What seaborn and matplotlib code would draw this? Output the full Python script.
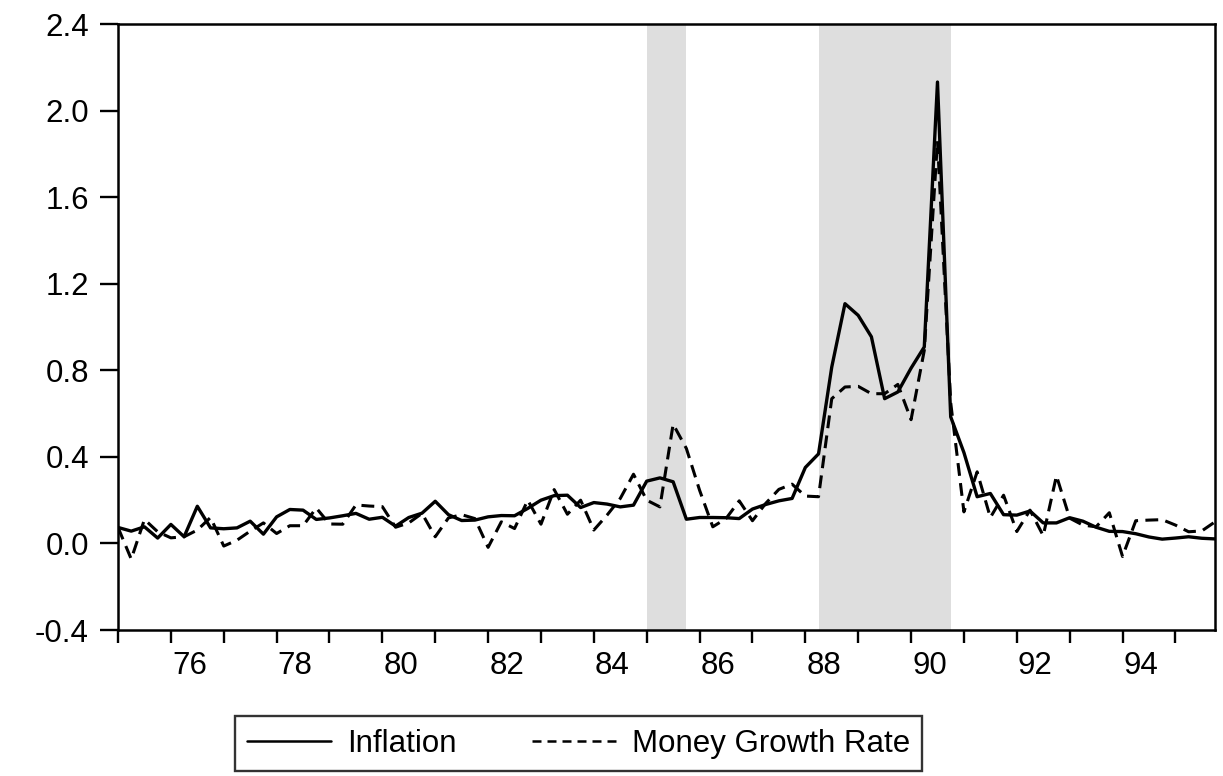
import numpy as np
import pandas as pd
import matplotlib.pyplot as plt
import seaborn as sns
from matplotlib.lines import Line2D

# квартальные данные, 1975Q1 - 1995Q4
start_year = 1975

inflation = [
    0.074, 0.057, 0.077, 0.025, 0.088, 0.031, 0.172, 0.072,
    0.068, 0.072, 0.103, 0.043, 0.123, 0.157, 0.154, 0.111,
    0.118, 0.128, 0.139, 0.112, 0.121, 0.080, 0.120, 0.140,
    0.195, 0.133, 0.106, 0.108, 0.123, 0.129, 0.128, 0.162,
    0.200, 0.221, 0.223, 0.166, 0.189, 0.182, 0.169, 0.177,
    0.288, 0.303, 0.285, 0.112, 0.120, 0.120, 0.119, 0.115,
    0.159, 0.180, 0.197, 0.208, 0.351, 0.414, 0.815, 1.108,
    1.054, 0.955, 0.669, 0.700, 0.810, 0.908, 2.132, 0.585,
    0.420, 0.216, 0.231, 0.133, 0.131, 0.150, 0.095, 0.095,
    0.119, 0.103, 0.075, 0.056, 0.055, 0.045, 0.030, 0.020,
    0.025, 0.031, 0.024, 0.021,
]

money_growth = [
    0.074, -0.072, 0.111, 0.054, 0.026, 0.031, 0.062, 0.120,
    -0.012, 0.015, 0.057, 0.095, 0.046, 0.082, 0.082, 0.164,
    0.090, 0.089, 0.178, 0.173, 0.170, 0.075, 0.095, 0.139,
    0.031, 0.118, 0.133, 0.115, -0.018, 0.100, 0.069, 0.200,
    0.089, 0.249, 0.135, 0.200, 0.062, 0.131, 0.208, 0.320,
    0.200, 0.169, 0.551, 0.439, 0.246, 0.077, 0.115, 0.197,
    0.105, 0.185, 0.250, 0.274, 0.219, 0.216, 0.669, 0.723,
    0.726, 0.692, 0.692, 0.735, 0.572, 0.892, 1.860, 0.650,
    0.146, 0.331, 0.120, 0.223, 0.055, 0.154, 0.036, 0.313,
    0.117, 0.085, 0.077, 0.142, -0.060, 0.105, 0.108, 0.110,
    0.085, 0.054, 0.058, 0.100,
]

# затенённые периоды (в годах)
shade_periods = [(1985.0, 1985.75), (1988.25, 1990.75)]

y_ticks = [-0.4, 0.0, 0.4, 0.8, 1.2, 1.6, 2.0, 2.4]
y_tick_labels = ["-0.4", "0.0", "0.4", "0.8", "1.2", "1.6", "2.0", "2.4"]
x_label_years = [1976, 1978, 1980, 1982, 1984, 1986, 1988, 1990, 1992, 1994]
x_tick_labels = ["76", "78", "80", "82", "84", "86", "88", "90", "92", "94"]

dates = start_year + np.arange(len(inflation)) / 4
df = pd.DataFrame({
    "date": dates,
    "Inflation": inflation,
    "Money Growth Rate": money_growth,
})

sns.set_style("ticks")
plt.rcParams["font.family"] = ["Liberation Sans", "DejaVu Sans"]
plt.rcParams["text.color"] = "black"

fig = plt.figure(figsize=(12.23, 7.76), dpi=100)
ax = fig.add_axes([0.0965, 0.1881, 0.897, 0.7809])

# -------------------------
# Затенение
# -------------------------
for x0, x1 in shade_periods:
    ax.axvspan(x0, x1, color="#dedede", lw=0, zorder=0)

# -------------------------
# Линии
# -------------------------
sns.lineplot(data=df, x="date", y="Inflation", color="black",
             linewidth=2.4, ax=ax, zorder=3)
sns.lineplot(data=df, x="date", y="Money Growth Rate", color="black",
             linewidth=2.2, ax=ax, zorder=2)
ax.lines[1].set_dashes((4.2, 2.4))

ax.set_xlim(start_year, start_year + (len(inflation) - 1) / 4)
ax.set_ylim(y_ticks[0], y_ticks[-1])
ax.set_xlabel("")
ax.set_ylabel("")

ax.set_yticks(y_ticks)
ax.set_yticklabels(y_tick_labels)

# деления на каждый год, подписи — внутри года
ax.set_xticks(np.arange(1975, 1996), minor=True)
ax.set_xticks([y + 0.35 for y in x_label_years])
ax.set_xticklabels(x_tick_labels)

ax.tick_params(axis="y", which="major", direction="out", length=13,
               width=1.7, pad=8, labelsize=22.5, colors="black")
ax.tick_params(axis="x", which="major", length=0, pad=15, labelsize=22.5,
               colors="black")
ax.tick_params(axis="x", which="minor", direction="out", length=9.5,
               width=1.7, colors="black")

for spine in ax.spines.values():
    spine.set_visible(True)
    spine.set_color("black")
    spine.set_linewidth(1.8)

# -------------------------
# Легенда
# -------------------------
handles = [
    Line2D([], [], color="black", linewidth=1.8),
    Line2D([], [], color="black", linewidth=1.8, dashes=(3.6, 2.4)),
]
leg = fig.legend(
    handles, ["Inflation", "Money Growth Rate"],
    loc="upper center", bbox_to_anchor=(0.473, 0.077),
    ncol=2, fontsize=22.5, frameon=True, fancybox=False,
    handlelength=2.7, handletextpad=0.5, columnspacing=2.4,
    borderpad=0.4, borderaxespad=0,
)
leg.get_frame().set_edgecolor("black")
leg.get_frame().set_linewidth(1.7)

fig.savefig("out.png", dpi=100)
